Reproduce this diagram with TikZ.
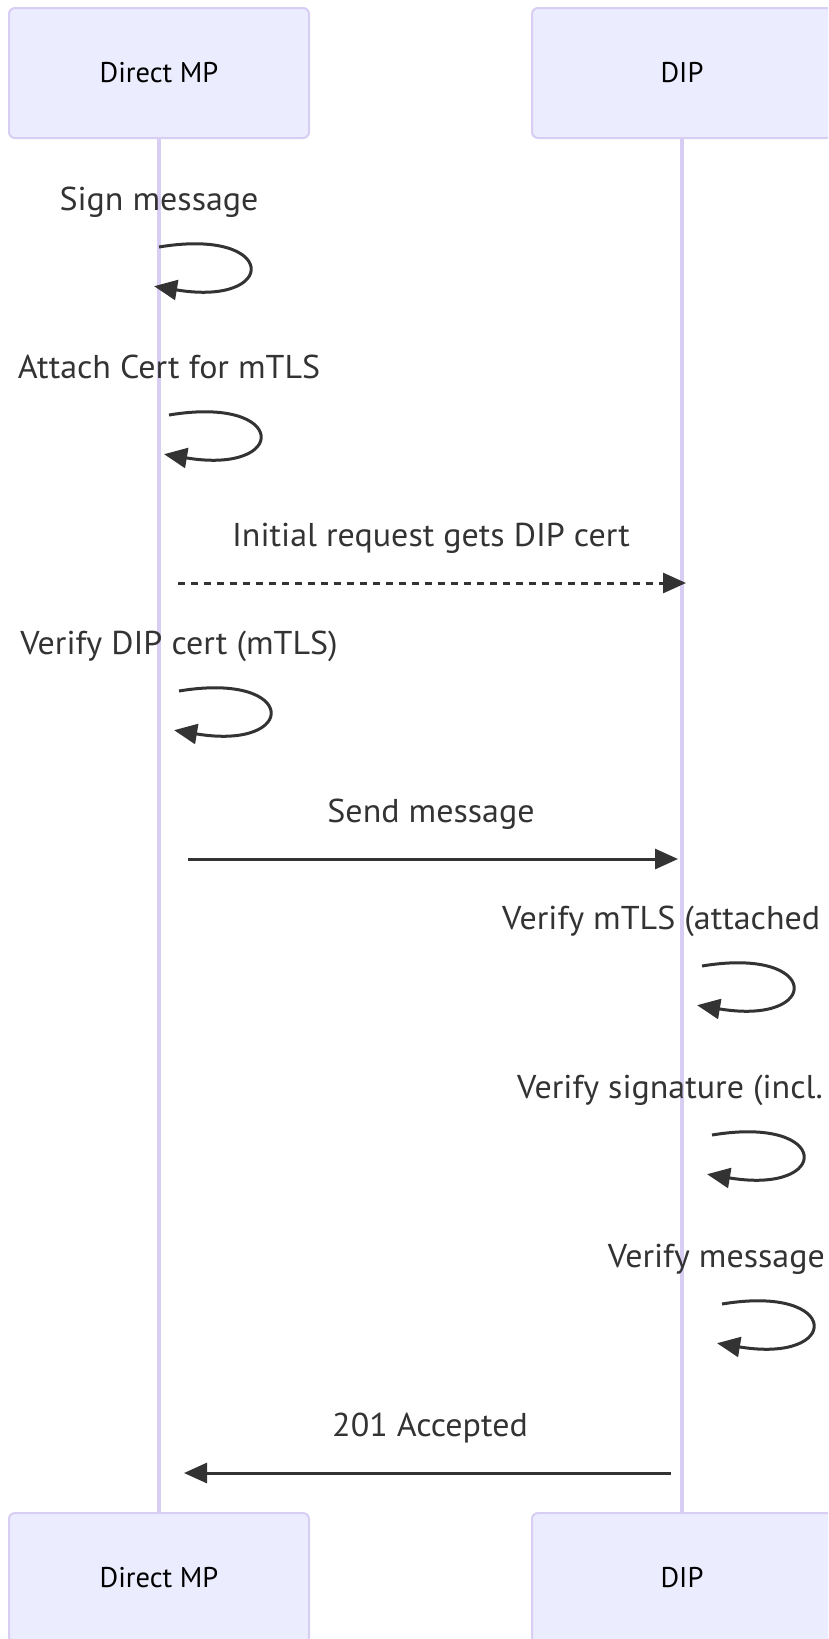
\documentclass[tikz,border=0pt]{standalone}
\usepackage{fontspec}
\setmainfont{PT Sans}
\newfontfamily\msgfont[FakeStretch=1.03]{PT Sans}
\usetikzlibrary{arrows.meta,calc}
\definecolor{actfill}{HTML}{ECECFF}
\definecolor{actline}{HTML}{D8CDF3}
\definecolor{ink}{HTML}{333333}
\begin{document}
\begin{tikzpicture}[x=1pt,y=-1pt,
  actor/.style={draw=actline,line width=2pt,fill=actfill,rounded corners=6pt,
    minimum width=300pt,minimum height=130pt,inner sep=0pt,
    font=\fontsize{28.5}{32}\selectfont,text=black},
  life/.style={draw=actline,line width=4pt},
  msg/.style={font=\msgfont\fontsize{33}{38}\selectfont,text=ink,anchor=base,inner sep=0pt},
  arr/.style={draw=ink,line width=3pt,-{Triangle[length=23pt,width=20pt]}},
  darr/.style={arr,dash pattern=on 7pt off 6pt},
  selfloop/.style={arr,shorten >=-5pt}
]
\useasboundingbox (0,0) rectangle (828,1639);
\clip (0,0) rectangle (828,1639);
% actors
\node[actor] (a1) at (159,73) {Direct MP};
\node[actor] (b1) at (682,73) {DIP};
\node[actor] (a2) at (159,1578) {Direct MP};
\node[actor] (b2) at (682,1578) {DIP};
\draw[life] (a1.south) -- (a2.north);
\draw[life] (b1.south) -- (b2.north);
% messages
\node[msg] (t1) at (159,210) {Sign message};
\coordinate (l1s) at (159,247); \coordinate (l1e) at (159,287);
\draw[selfloop] (l1s) .. controls ($(l1s)+(120,-20)$) and ($(l1s)+(120,60)$) .. (l1e);

\node[msg] (t2) at (169,378) {Attach Cert for mTLS};
\coordinate (l2s) at (169,415); \coordinate (l2e) at (169,455);
\draw[selfloop] (l2s) .. controls ($(l2s)+(120,-20)$) and ($(l2s)+(120,60)$) .. (l2e);

\node[msg] (t3) at (431,546) {Initial request gets DIP cert};
\coordinate (m1s) at (178,583); \coordinate (m1e) at (686,583);
\draw[darr] (m1s) -- (m1e);

\node[msg] (t4) at (179,654) {Verify DIP cert (mTLS)};
\coordinate (l3s) at (179,691); \coordinate (l3e) at (179,731);
\draw[selfloop] (l3s) .. controls ($(l3s)+(120,-20)$) and ($(l3s)+(120,60)$) .. (l3e);

\node[msg] (t5) at (431,822) {Send message};
\coordinate (m2s) at (188,859); \coordinate (m2e) at (678,859);
\draw[arr] (m2s) -- (m2e);

\node[msg,anchor=base west] (t6) at (502,929) {Verify mTLS (attached};
\coordinate (l4s) at (702,966); \coordinate (l4e) at (702,1006);
\draw[selfloop] (l4s) .. controls ($(l4s)+(120,-20)$) and ($(l4s)+(120,60)$) .. (l4e);

\node[msg,anchor=base west] (t7) at (517,1098) {Verify signature (incl.};
\coordinate (l5s) at (712,1135); \coordinate (l5e) at (712,1175);
\draw[selfloop] (l5s) .. controls ($(l5s)+(120,-20)$) and ($(l5s)+(120,60)$) .. (l5e);

\node[msg,anchor=base east] (t8) at (825,1267) {Verify message};
\coordinate (l6s) at (722,1304); \coordinate (l6e) at (722,1344);
\draw[selfloop] (l6s) .. controls ($(l6s)+(120,-20)$) and ($(l6s)+(120,60)$) .. (l6e);

\node[msg] (t9) at (430,1436) {201 Accepted};
\coordinate (m3s) at (671,1473); \coordinate (m3e) at (184,1473);
\draw[arr] (m3s) -- (m3e);
\end{tikzpicture}
\end{document}
